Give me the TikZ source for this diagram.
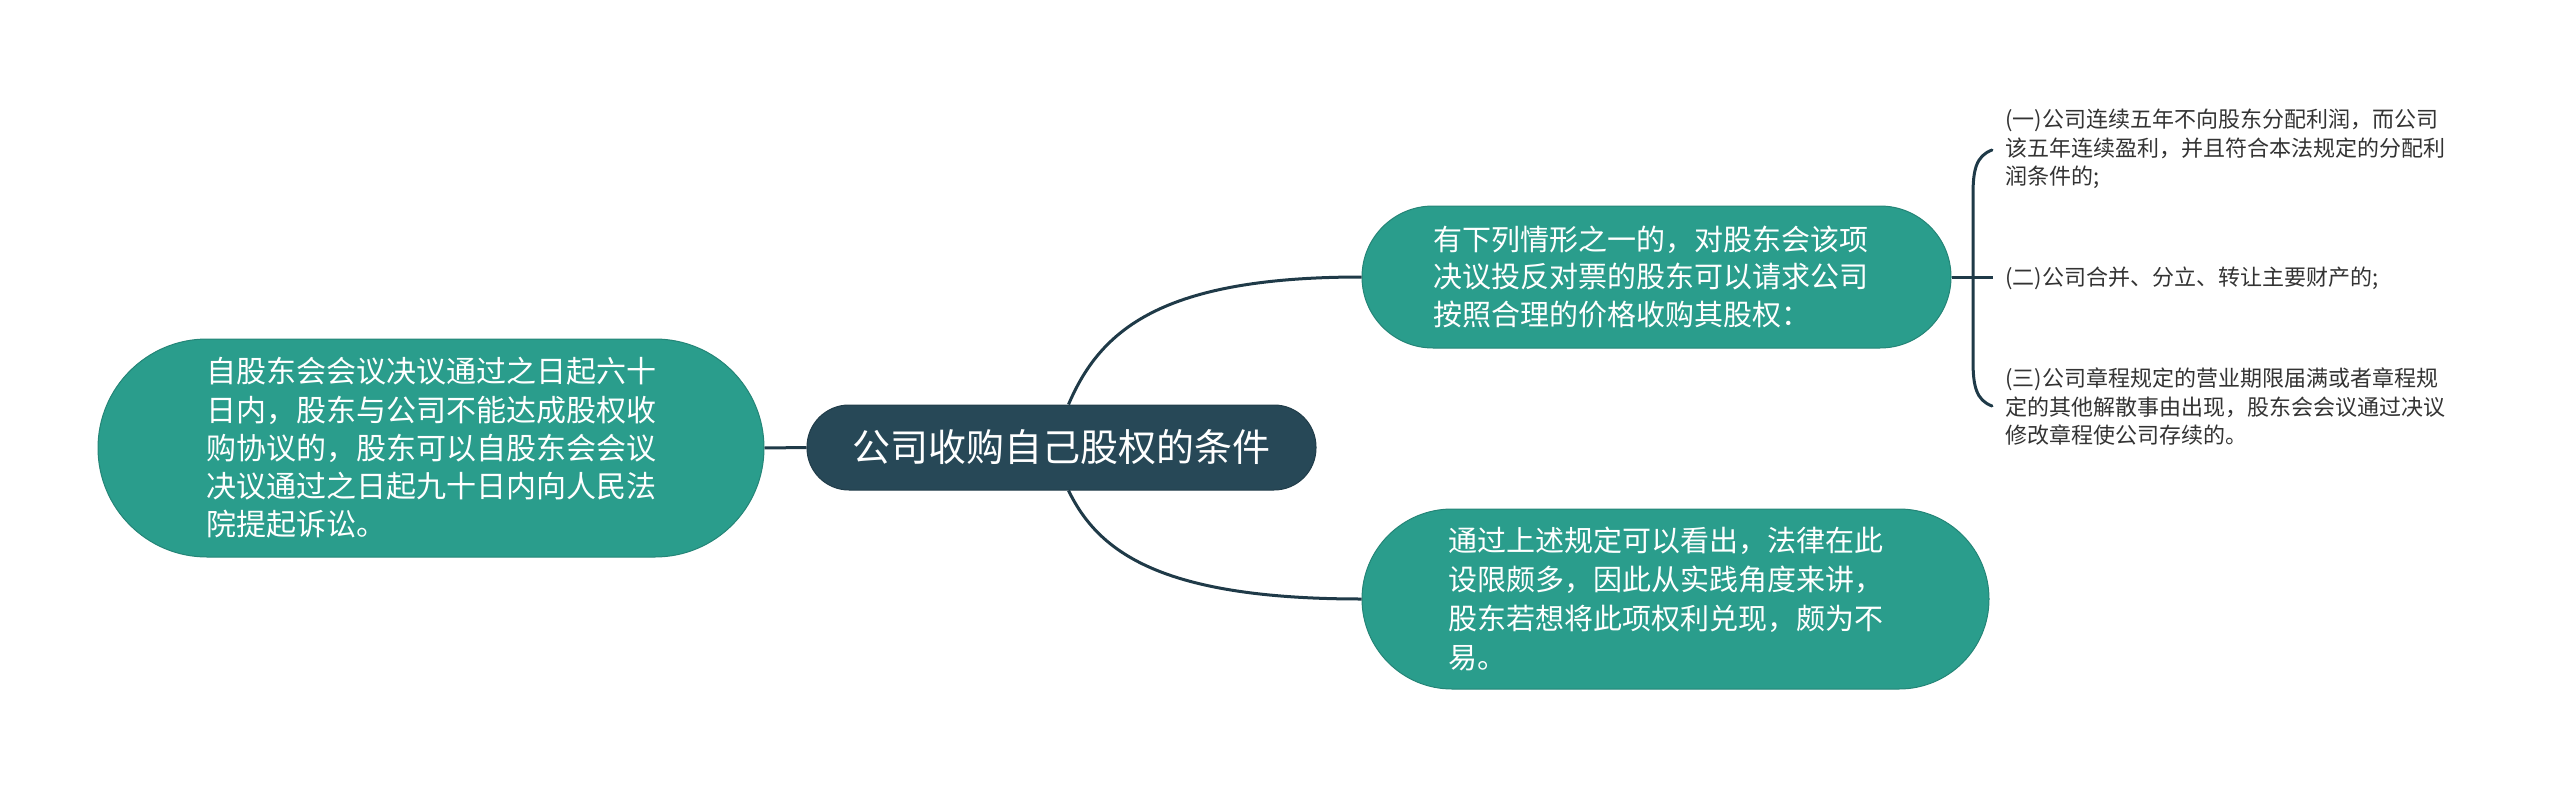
\documentclass[tikz,border=0pt]{standalone}
\usepackage{fontspec}
\setmainfont{Noto Sans CJK SC}
\definecolor{tealfill}{HTML}{2A9D8C}
\definecolor{navyfill}{HTML}{274857}
\definecolor{linec}{HTML}{1F3A48}
\begin{document}
\begin{tikzpicture}[x=1pt,y=-1pt,
  tealbox/.style={fill=tealfill, draw=tealfill!85!black, line width=1pt, text=white, align=left, inner sep=0pt},
  rootbox/.style={fill=navyfill, draw=navyfill!85!black, line width=1pt, text=white, inner sep=0pt},
  conn/.style={draw=linec, line width=3pt},
  leaf/.style={text=black!80, align=left, anchor=west, inner sep=0pt, font=\fontsize{22}{28.5}\selectfont}]
\useasboundingbox (0,0) rectangle (2560,787);

\node[rootbox, minimum width=509pt, minimum height=85pt, rounded corners=42pt,
  font=\fontsize{38}{46}\selectfont] (C) at (1061.5,447.5) {公司收购自己股权的条件};

\node[tealbox, minimum width=666pt, minimum height=218pt, rounded corners=109pt,
  font=\fontsize{30}{38.3}\selectfont] (L) at (431,448)
  {自股东会会议决议通过之日起六十\\日内，股东与公司不能达成股权收\\购协议的，股东可以自股东会会议\\决议通过之日起九十日内向人民法\\院提起诉讼。};

\node[tealbox, minimum width=589pt, minimum height=142pt, rounded corners=71pt,
  font=\fontsize{29}{37.5}\selectfont] (TR) at (1656.5,277)
  {有下列情形之一的，对股东会该项\hspace*{12pt}\\决议投反对票的股东可以请求公司\\按照合理的价格收购其股权：};

\node[tealbox, minimum width=627pt, minimum height=180pt, rounded corners=90pt,
  font=\fontsize{29}{39}\selectfont] (BR) at (1675.5,599)
  {通过上述规定可以看出，法律在此\hspace*{20pt}\\设限颇多，因此从实践角度来讲，\\股东若想将此项权利兑现，颇为不\\易。};

\node[leaf] (A1) at (2005,149) {(一)公司连续五年不向股东分配利润，而公司\\该五年连续盈利，并且符合本法规定的分配利\\润条件的;};
\node[leaf] (A2) at (2005,278) {(二)公司合并、分立、转让主要财产的;};
\node[leaf] (A3) at (2005,407) {(三)公司章程规定的营业期限届满或者章程规\\定的其他解散事由出现，股东会会议通过决议\\修改章程使公司存续的。};

\coordinate (bt) at (1992,150);
\coordinate (bb) at (1992,406);
\coordinate (bm) at (1993,277);

\draw[conn] (L.east) -- (C.west);
\draw[conn] ([xshift=7pt]C.north) .. controls +(32,-75) and +(-200,0) .. (TR.west);
\draw[conn] ([xshift=7pt]C.south) .. controls +(30,62) and +(-200,0) .. (BR.west);
\draw[conn] (TR.east) -- (bm);
\draw[conn, line cap=round] (bt) .. controls (1976,156) and (1973,170) .. (1973,195)
  -- (1973,360) .. controls (1973,386) and (1976,400) .. (bb);
\end{tikzpicture}
\end{document}
